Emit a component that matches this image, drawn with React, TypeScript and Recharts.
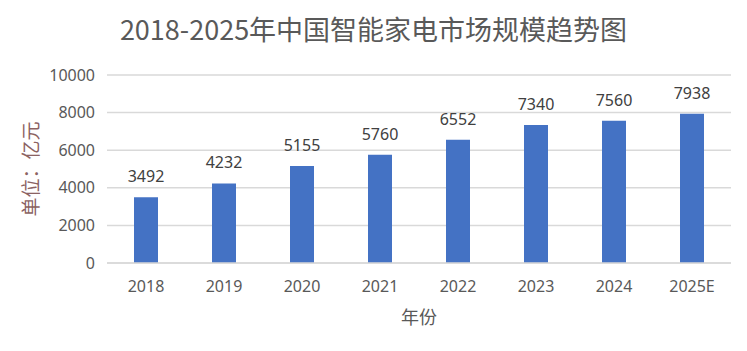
import { BarChart, Bar, XAxis, YAxis, CartesianGrid, LabelList } from "recharts";

// chart values
const years = ["2018", "2019", "2020", "2021", "2022", "2023", "2024", "2025E"];
const marketSize = [3492, 4232, 5155, 5760, 6552, 7340, 7560, 7938];
const yTicks = [0, 2000, 4000, 6000, 8000, 10000];

const data = years.map((year, i) => ({ year, value: marketSize[i] }));

const latin = '"Noto Sans", "Noto Sans CJK SC", sans-serif';
const cjk = '"Noto Sans CJK SC", "Noto Sans", sans-serif';

const renderYLabel = (props: any) => {
  const vb = props.viewBox || {};
  const cx = (vb.x || 0) + 29;
  const cy = (vb.y || 0) + (vb.height || 0) / 2;
  return (
    <text
      x={cx}
      y={cy}
      transform={`rotate(-90 ${cx} ${cy})`}
      textAnchor="middle"
      dominantBaseline="central"
      fill="#8b6262"
      fontSize={19}
      fontFamily={cjk}
    >
      单位：亿元
    </text>
  );
};

export default function App() {
  return (
    <div style={{ position: "absolute", left: 0, top: 0, width: 747, height: 351, background: "#fff" }}>
      <div
        style={{
          position: "absolute",
          left: 0,
          top: 0,
          width: 747,
          lineHeight: "58px",
          textAlign: "center",
          fontSize: 27,
          fontFamily: cjk,
          color: "#595959",
        }}
      >
        2018-2025年中国智能家电市场规模趋势图
      </div>
      <BarChart
        width={747}
        height={351}
        data={data}
        margin={{ top: 75, right: 16, bottom: 0, left: 0 }}
        barSize={24}
      >
        <CartesianGrid vertical={false} stroke="#d9d9d9" strokeWidth={1.5} />
        <XAxis
          dataKey="year"
          height={88}
          axisLine={{ stroke: "#d9d9d9", strokeWidth: 1.5 }}
          tickLine={false}
          tickSize={0}
          tickMargin={18}
          tick={{ fill: "#595959", fontSize: 16, fontFamily: latin }}
          label={{
            value: "年份",
            position: "insideBottom",
            offset: 27,
            fill: "#595959",
            fontSize: 18,
            fontFamily: cjk,
          }}
        />
        <YAxis
          width={107}
          domain={[0, 10000]}
          ticks={yTicks}
          axisLine={false}
          tickLine={false}
          tickSize={0}
          tickMargin={12}
          tick={{ fill: "#595959", fontSize: 16, fontFamily: latin }}
          label={renderYLabel}
        />
        <Bar dataKey="value" fill="#4472c4" isAnimationActive={false}>
          <LabelList
            dataKey="value"
            position="top"
            offset={15}
            fill="#404040"
            fontSize={16}
            fontFamily={latin}
          />
        </Bar>
      </BarChart>
    </div>
  );
}
